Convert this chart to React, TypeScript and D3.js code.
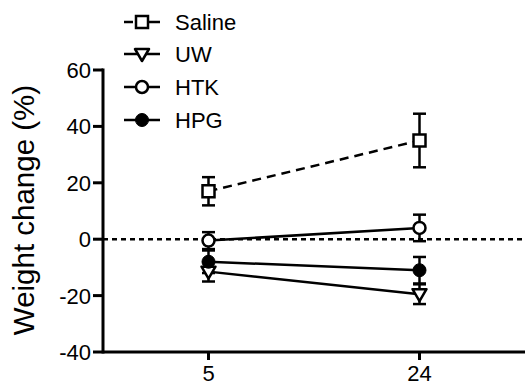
import React from "react";
import * as d3 from "d3";

const timepoints = [5, 24];
const seriesNames = ["Saline", "UW", "HTK", "HPG"];
const salineMean = [17, 35];
const salineErr = [5, 9.5];
const uwMean = [-11.5, -19.5];
const uwErr = [3.5, 3.5];
const htkMean = [-0.5, 4];
const htkErr = [3, 4.7];
const hpgMean = [-8, -11];
const hpgErr = [4, 4.7];
const yTicks = [-40, -20, 0, 20, 40, 60];

const W = 526;
const H = 386;

type Series = { name: string; mean: number[]; err: number[]; marker: string; dashed: boolean };
const series: Series[] = [
  { name: seriesNames[0], mean: salineMean, err: salineErr, marker: "square", dashed: true },
  { name: seriesNames[1], mean: uwMean, err: uwErr, marker: "triangle", dashed: false },
  { name: seriesNames[2], mean: htkMean, err: htkErr, marker: "circle", dashed: false },
  { name: seriesNames[3], mean: hpgMean, err: hpgErr, marker: "dot", dashed: false },
];

function Marker({ type, x, y }: { type: string; x: number; y: number }) {
  const sw = 2.5;
  if (type === "square")
    return <rect x={x - 6} y={y - 6} width={12} height={12} fill="#fff" stroke="#000" strokeWidth={sw} />;
  if (type === "triangle")
    return (
      <path
        d={`M${x - 7},${y - 5} L${x + 7},${y - 5} L${x},${y + 7} Z`}
        fill="#fff"
        stroke="#000"
        strokeWidth={sw}
        strokeLinejoin="round"
      />
    );
  if (type === "circle") return <circle cx={x} cy={y} r={6} fill="#fff" stroke="#000" strokeWidth={sw} />;
  return <circle cx={x} cy={y} r={6.5} fill="#000" stroke="#000" strokeWidth={1} />;
}

export default function App() {
  const left = 103;
  const right = 525;
  const top = 70;
  const bottom = 352;
  const x = d3.scalePoint<number>().domain(timepoints).range([left, right]).padding(0.5);
  const y = d3.scaleLinear().domain([-40, 60]).range([bottom, top]);
  const line = d3
    .line<number>()
    .x((_, i) => x(timepoints[i]) as number)
    .y((d) => y(d));
  const font = "Liberation Sans, Arial, sans-serif";
  const legendY = [22, 54, 87, 120];

  return (
    <div style={{ position: "absolute", left: 0, top: 0 }}>
      <svg width={W} height={H} style={{ display: "block", background: "#fff" }}>
        {/* zero line */}
        <line x1={left} x2={right} y1={y(0)} y2={y(0)} stroke="#000" strokeWidth={2.5} strokeDasharray="5,4" />
        {/* axes */}
        <line x1={left} x2={left} y1={top - 1.5} y2={bottom + 1.5} stroke="#000" strokeWidth={3} />
        <line x1={left} x2={right} y1={bottom} y2={bottom} stroke="#000" strokeWidth={3} />
        {yTicks.map((t) => (
          <g key={t}>
            <line x1={left - 10} x2={left} y1={y(t)} y2={y(t)} stroke="#000" strokeWidth={3} />
            <text x={left - 12} y={y(t)} dy="0.36em" textAnchor="end" fontFamily={font} fontSize={22}>
              {t}
            </text>
          </g>
        ))}
        {timepoints.map((t) => (
          <g key={t}>
            <line x1={x(t)} x2={x(t)} y1={bottom} y2={bottom + 8} stroke="#000" strokeWidth={3} />
            <text x={x(t)} y={bottom + 29} textAnchor="middle" fontFamily={font} fontSize={22}>
              {t}
            </text>
          </g>
        ))}
        <text
          transform={`translate(34,210) rotate(-90)`}
          textAnchor="middle"
          fontFamily={font}
          fontSize={29.5}
        >
          Weight change (%)
        </text>
        {/* series lines */}
        {series.map((s) => (
          <path
            key={s.name + "l"}
            d={line(s.mean) || ""}
            fill="none"
            stroke="#000"
            strokeWidth={2.5}
            strokeDasharray={s.dashed ? "9,6" : undefined}
          />
        ))}
        {/* error bars */}
        {series.map((s) =>
          s.mean.map((m, i) => {
            const cx = x(timepoints[i]) as number;
            const y1 = y(m + s.err[i]);
            const y2 = y(m - s.err[i]);
            return (
              <g key={s.name + "e" + i} stroke="#000" strokeWidth={2.5}>
                <line x1={cx} x2={cx} y1={y1} y2={y2} />
                <line x1={cx - 6.5} x2={cx + 6.5} y1={y1} y2={y1} />
                <line x1={cx - 6.5} x2={cx + 6.5} y1={y2} y2={y2} />
              </g>
            );
          })
        )}
        {/* markers */}
        {series.map((s) =>
          s.mean.map((m, i) => (
            <Marker key={s.name + "m" + i} type={s.marker} x={x(timepoints[i]) as number} y={y(m)} />
          ))
        )}
        {/* legend */}
        {series.map((s, i) => (
          <g key={s.name + "leg"}>
            <line
              x1={124}
              x2={160}
              y1={legendY[i]}
              y2={legendY[i]}
              stroke="#000"
              strokeWidth={2.5}
              strokeDasharray={s.dashed ? "9,16,11" : undefined}
            />
            <Marker type={s.marker} x={142} y={legendY[i]} />
            <text x={175} y={legendY[i]} dy="0.36em" fontFamily={font} fontSize={22}>
              {s.name}
            </text>
          </g>
        ))}
      </svg>
    </div>
  );
}
